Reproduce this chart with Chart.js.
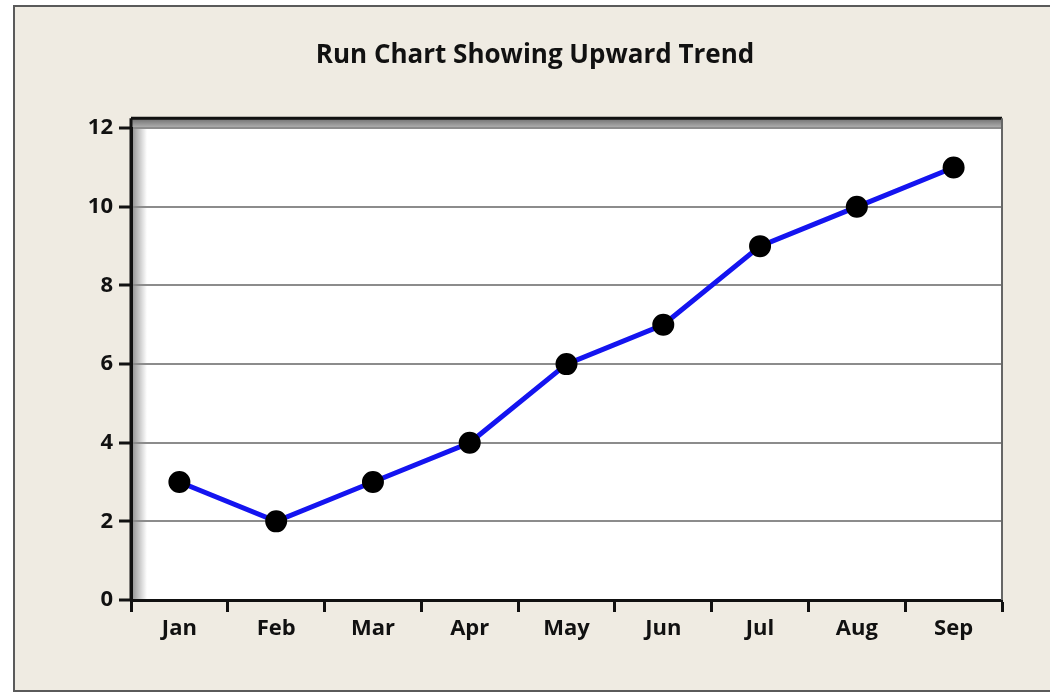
<!DOCTYPE html>
<html>
<head>
<meta charset="utf-8">
<script src="https://cdn.jsdelivr.net/npm/chart.js@4.4.1/dist/chart.umd.min.js"></script>
<style>
    html, body { margin: 0; padding: 0; background: #fff; overflow: hidden; }
    #frame {
        position: absolute; left: 13px; top: 5px; width: 1050px; height: 683px;
        background: #efebe2; border: 2px solid #5a5a5a; border-right: none;
    }
    #wrap { position: absolute; left: 0; top: 0; width: 1050px; height: 693px; }
</style>
</head>
<body>
<div id="frame"></div>
<div id="wrap"><canvas id="runChart"></canvas></div>
<script>
const months = ['Jan', 'Feb', 'Mar', 'Apr', 'May', 'Jun', 'Jul', 'Aug', 'Sep'];
const values = [3, 2, 3, 4, 6, 7, 9, 10, 11];
const yTicks = [0, 2, 4, 6, 8, 10, 12];

const FONT = "'Open Sans', sans-serif";

// white plot box with the shaded top band and left inner shadow
const plotBox = {
    id: 'plotBox',
    beforeDraw(chart) {
        const { ctx, chartArea: a } = chart;
        const top = a.top - 10;
        ctx.save();
        ctx.fillStyle = '#fff';
        ctx.fillRect(a.left, top, a.right - a.left, a.bottom - top);
        let g = ctx.createLinearGradient(0, top, 0, a.top);
        g.addColorStop(0, '#6e6e6e');
        g.addColorStop(1, '#b4b4b4');
        ctx.fillStyle = g;
        ctx.fillRect(a.left, top, a.right - a.left, a.top - top);
        g = ctx.createLinearGradient(a.left, 0, a.left + 16, 0);
        g.addColorStop(0, 'rgba(0,0,0,0.45)');
        g.addColorStop(1, 'rgba(0,0,0,0)');
        ctx.fillStyle = g;
        ctx.fillRect(a.left, a.top, 16, a.bottom - a.top);
        ctx.restore();
    },
    afterDraw(chart) {
        const { ctx, chartArea: a } = chart;
        const top = a.top - 10;
        ctx.save();
        ctx.strokeStyle = '#111';
        ctx.lineWidth = 3;
        ctx.beginPath();
        ctx.moveTo(a.left, top);
        ctx.lineTo(a.right, top);
        ctx.moveTo(a.left, top);
        ctx.lineTo(a.left, a.bottom);
        ctx.stroke();
        ctx.strokeStyle = '#666';
        ctx.lineWidth = 2;
        ctx.beginPath();
        ctx.moveTo(a.right, top);
        ctx.lineTo(a.right, a.bottom);
        ctx.stroke();
        ctx.restore();
    }
};

new Chart(document.getElementById('runChart'), {
    type: 'line',
    data: {
        labels: months,
        datasets: [{
            data: values,
            borderColor: '#1414f0',
            borderWidth: 5,
            pointBackgroundColor: '#000',
            pointBorderColor: '#000',
            pointRadius: 8.5,
            pointHoverRadius: 8.5,
            tension: 0
        }]
    },
    options: {
        responsive: true,
        maintainAspectRatio: false,
        animation: false,
        layout: { padding: { left: 68, right: 48, top: 0, bottom: 0 } },
        plugins: {
            legend: { display: false },
            tooltip: { enabled: false },
            title: {
                display: true,
                text: 'Run Chart Showing Upward Trend',
                color: '#111',
                font: { family: FONT, size: 26, weight: 'bold' },
                padding: { top: 40, bottom: 57 }
            }
        },
        scales: {
            x: {
                offset: true,
                afterFit(scale) { scale.height = 93; },
                grid: {
                    offset: true,
                    drawOnChartArea: false,
                    tickLength: 12,
                    tickColor: '#111',
                    tickWidth: 3
                },
                border: { color: '#111', width: 3 },
                ticks: {
                    color: '#111',
                    padding: 4,
                    font: { family: FONT, size: 22, weight: 'bold' }
                }
            },
            y: {
                min: 0,
                max: 12,
                afterFit(scale) { scale.width = 63; },
                afterBuildTicks(scale) { scale.ticks = yTicks.map(v => ({ value: v })); },
                grid: {
                    color: '#8c8c8c',
                    lineWidth: 2,
                    tickLength: 12,
                    tickColor: '#111',
                    tickWidth: 3
                },
                border: { color: '#111', width: 3 },
                ticks: {
                    color: '#111',
                    padding: 6,
                    font: { family: FONT, size: 22, weight: 'bold' }
                }
            }
        }
    },
    plugins: [plotBox]
});
</script>
</body>
</html>
